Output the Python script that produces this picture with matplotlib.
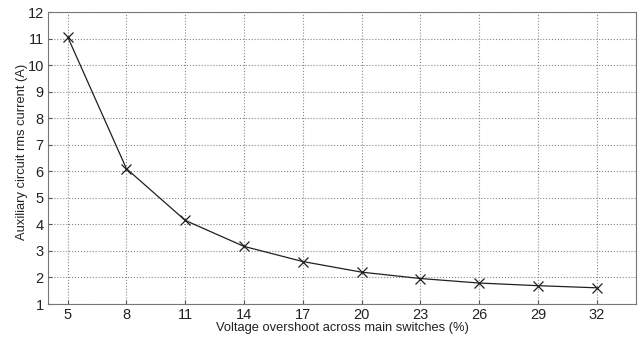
import matplotlib.pyplot as plt

overshoot = [5, 8, 11, 14, 17, 20, 23, 26, 29, 32]
rms_current = [11.07, 6.1, 4.15, 3.17, 2.6, 2.2, 1.96, 1.79, 1.69, 1.61]
y_ticks = list(range(1, 13))

plt.rcParams["font.family"] = ["Liberation Sans", "DejaVu Sans"]

fig = plt.figure(figsize=(6.4, 3.41), dpi=100)
ax = fig.add_axes([48 / 640, 37 / 341, 588 / 640, 292 / 341])

ax.plot(overshoot, rms_current, color="#202020", linewidth=0.9,
        marker="x", markersize=7, markeredgewidth=0.9)

ax.set_xlim(4, 34)
ax.set_ylim(1, 12)
ax.set_xticks(overshoot)
ax.set_yticks(y_ticks)
ax.grid(True, linestyle=":", color="#888888", linewidth=0.8)
ax.tick_params(direction="in", labelsize=10.5, length=3, color="#555555",
               labelcolor="#222222", pad=3)
for s in ax.spines.values():
    s.set_color("#777777")
    s.set_linewidth(0.8)

ax.set_xlabel("Voltage overshoot across main switches (%)", fontsize=9.3,
              labelpad=0, color="#222222")
ax.set_ylabel("Auxiliary circuit rms current (A)", fontsize=9.3,
              labelpad=2, color="#222222")
ax.yaxis.set_label_coords(-20 / 588, 0.52)

fig.savefig("out.png", dpi=100)
